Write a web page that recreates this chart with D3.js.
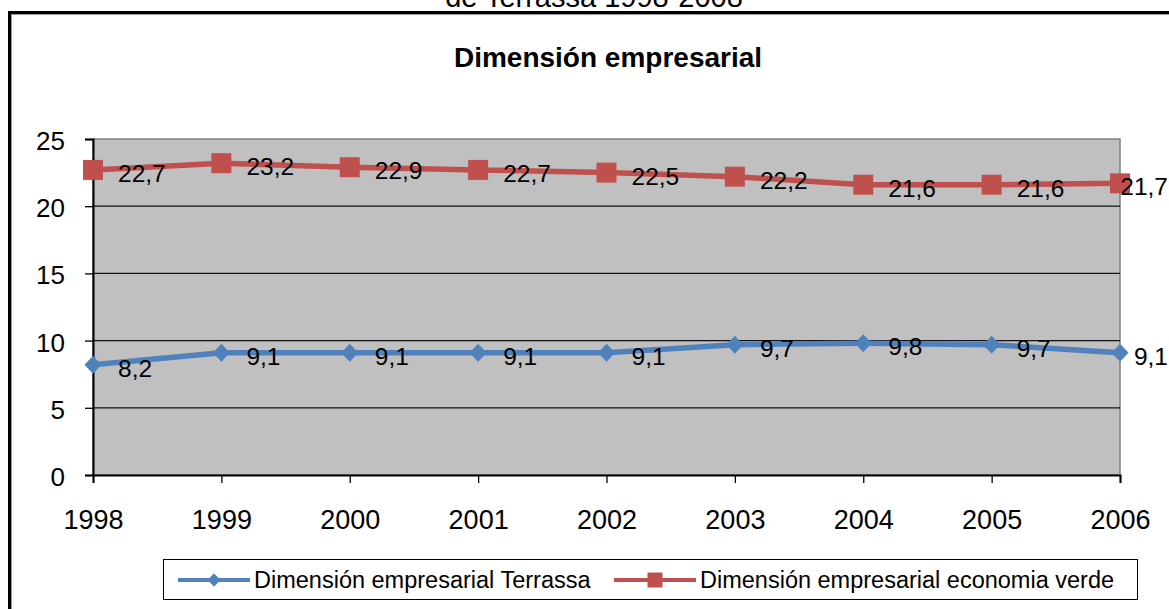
<!DOCTYPE html>
<html><head><meta charset="utf-8">
<script src="https://cdn.jsdelivr.net/npm/d3@7"></script>
<style>
html,body{margin:0;padding:0;background:#fff;}
svg{display:block;font-family:"Liberation Sans",Arial,sans-serif;}
</style></head>
<body>
<svg id="chart" width="1169" height="609"></svg>
<script>
const years = ["1998","1999","2000","2001","2002","2003","2004","2005","2006"];
const terrassa = [8.2, 9.1, 9.1, 9.1, 9.1, 9.7, 9.8, 9.7, 9.1];
const verde = [22.7, 23.2, 22.9, 22.7, 22.5, 22.2, 21.6, 21.6, 21.7];
const yTicks = [0, 5, 10, 15, 20, 25];
const seriesNames = ["Dimensión empresarial Terrassa", "Dimensión empresarial economia verde"];
const chartTitle = "Dimensión empresarial";
const docTitle = "de Terrassa 1998-2008";

const W = 1169, H = 609;
const svg = d3.select("#chart");
const fmt = v => String(v).replace(".", ",");

// page-level title (cut off at top, as in the reference)
svg.append("text").attr("x", 594).attr("y", 7).attr("text-anchor", "middle")
  .attr("font-size", 29).attr("fill", "#000").text(docTitle);

// outer chart frame
svg.append("rect").attr("x", 9.5).attr("y", 12.5).attr("width", 1300).attr("height", 800)
  .attr("fill", "#fff").attr("stroke", "#000").attr("stroke-width", 3);
svg.append("rect").attr("x", 11.5).attr("y", 14.5).attr("width", 1300).attr("height", 800)
  .attr("fill", "none").attr("stroke", "#999").attr("stroke-width", 1);

// chart title
svg.append("text").attr("x", 608).attr("y", 67).attr("text-anchor", "middle")
  .attr("font-size", 28).attr("font-weight", "bold").attr("fill", "#000").text(chartTitle);

const pLeft = 93, pRight = 1120, pTop = 139, pBottom = 475;
const x = d3.scalePoint().domain(years).range([pLeft, pRight]);
const y = d3.scaleLinear().domain([0, 25]).range([pBottom, pTop]);

// plot area
svg.append("rect").attr("x", pLeft).attr("y", pTop).attr("width", pRight - pLeft).attr("height", pBottom - pTop)
  .attr("fill", "#c0c0c0").attr("stroke", "#808080").attr("stroke-width", 1.5);

// gridlines
svg.append("g").selectAll("line").data(yTicks.filter(t => t > 0 && t < 25)).join("line")
  .attr("x1", pLeft).attr("x2", pRight).attr("y1", d => y(d)).attr("y2", d => y(d))
  .attr("stroke", "#111").attr("stroke-width", 1.3);

// y axis
const yAxis = d3.axisLeft(y).tickValues(yTicks).tickSize(8).tickPadding(20).tickFormat(d => d);
const gy = svg.append("g").attr("transform", `translate(${pLeft},0)`).call(yAxis);
gy.select(".domain").attr("stroke", "#000").attr("stroke-width", 2);
gy.selectAll(".tick line").attr("stroke", "#000").attr("stroke-width", 1.3);
gy.selectAll(".tick text").attr("font-size", 26).attr("fill", "#000")
  .attr("font-family", "Liberation Sans, Arial, sans-serif").attr("dy", "0.4em").attr("x", -28);

// x axis
const xAxis = d3.axisBottom(x).tickSize(8).tickPadding(26);
const gx = svg.append("g").attr("transform", `translate(0,${pBottom})`).call(xAxis);
gx.select(".domain").attr("stroke", "#000").attr("stroke-width", 2);
gx.selectAll(".tick line").attr("stroke", "#000").attr("stroke-width", 1.3);
gx.selectAll(".tick text").attr("font-size", 27).attr("fill", "#000")
  .attr("font-family", "Liberation Sans, Arial, sans-serif").attr("dy", "0.71em").attr("y", 35);

const series = [
  {name: seriesNames[0], values: terrassa, color: "#4F81BD", shape: "diamond"},
  {name: seriesNames[1], values: verde, color: "#C0504D", shape: "square"}
];
const line = d3.line().x((d, i) => x(years[i])).y(d => y(d));

function marker(g, shape, color, cx, cy, s) {
  s = s || 1;
  if (shape === "square") {
    g.append("rect").attr("x", cx - 10 * s).attr("y", cy - 10 * s).attr("width", 20 * s).attr("height", 20 * s).attr("fill", color);
  } else {
    g.append("path").attr("d", `M${cx},${cy - 9 * s} L${cx + 8.5 * s},${cy} L${cx},${cy + 9 * s} L${cx - 8.5 * s},${cy} Z`).attr("fill", color);
  }
}

series.forEach(s => {
  const g = svg.append("g");
  g.append("path").datum(s.values).attr("d", line).attr("fill", "none")
    .attr("stroke", s.color).attr("stroke-width", 5.5).attr("stroke-linejoin", "round");
  s.values.forEach((v, i) => marker(g, s.shape, s.color, x(years[i]), y(v)));
  s.values.forEach((v, i) => {
    const t = g.append("text").attr("font-size", 24.5).attr("fill", "#000")
      .attr("y", y(v) + 12).text(fmt(v));
    const w = t.node().getComputedTextLength();
    const tx = Math.min(x(years[i]) + 25, W - w - 1);
    t.attr("x", tx);
  });
});

// legend
svg.append("rect").attr("x", 163.5).attr("y", 559.5).attr("width", 974).attr("height", 40)
  .attr("fill", "#fff").attr("stroke", "#000").attr("stroke-width", 1);
const legendItems = [
  {s: series[0], x1: 178, x2: 250, tx: 254},
  {s: series[1], x1: 614, x2: 696, tx: 700}
];
legendItems.forEach(li => {
  const ly = 580;
  svg.append("line").attr("x1", li.x1).attr("x2", li.x2).attr("y1", ly).attr("y2", ly)
    .attr("stroke", li.s.color).attr("stroke-width", 4);
  marker(svg, li.s.shape, li.s.color, (li.x1 + li.x2) / 2, ly, 0.75);
  svg.append("text").attr("x", li.tx).attr("y", ly + 8).attr("font-size", 23.5).attr("fill", "#000").text(li.s.name);
});
</script>
</body></html>
